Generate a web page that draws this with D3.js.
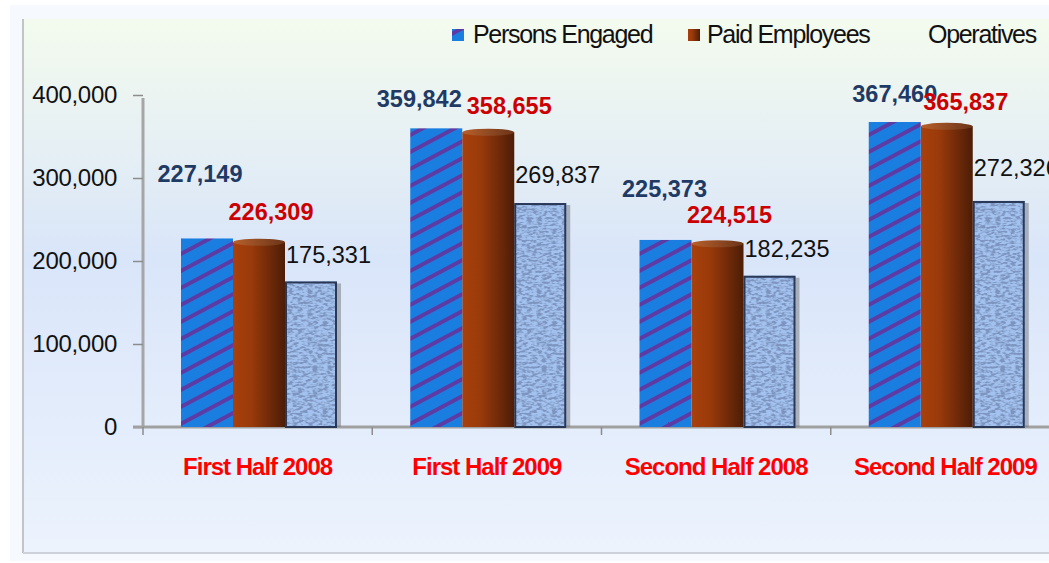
<!DOCTYPE html>
<html>
<head>
<meta charset="utf-8">
<script src="https://cdn.jsdelivr.net/npm/d3@7"></script>
<style>
  body { margin: 0; background: #fff; }
  svg { display: block; font-family: "Liberation Sans", Arial, sans-serif; }
</style>
</head>
<body>
<svg id="chart" width="1049" height="563"></svg>
<script>
// chart data
const categories = ['First Half 2008', 'First Half 2009', 'Second Half 2008', 'Second Half 2009'];
const seriesNames = ['Persons Engaged', 'Paid Employees', 'Operatives'];
const personsEngaged = [227149, 359842, 225373, 367460];
const paidEmployees = [226309, 358655, 224515, 365837];
const operatives = [175331, 269837, 182235, 272326];
const yTicks = [0, 100000, 200000, 300000, 400000];

// hand-placed value labels in the source: lift above bar top, sideways shift
const liftPersons = [65, 30, 51, 28];
const shiftPersons = [-7, -17, -1, 0];
const liftPaid = [27, 24, 26, 22];
const shiftPaid = [12, 21, 12, 19];
const liftOps = [27, 28, 27, 33];

const svg = d3.select('#chart');
const defs = svg.append('defs');

// panel background
const bg = defs.append('linearGradient').attr('id', 'panelBg')
  .attr('x1', 0).attr('y1', 0).attr('x2', 0).attr('y2', 1);
bg.append('stop').attr('offset', '0%').attr('stop-color', '#f4fbee');
bg.append('stop').attr('offset', '45%').attr('stop-color', '#d9e5f9');
bg.append('stop').attr('offset', '100%').attr('stop-color', '#ecf3fd');

svg.append('rect').attr('x', 10).attr('y', 5).attr('width', 1045).attr('height', 556)
  .attr('fill', '#f6f9fd');
svg.append('rect').attr('x', 23).attr('y', 19).attr('width', 1040).attr('height', 534)
  .attr('fill', 'url(#panelBg)');
svg.append('line').attr('x1', 23).attr('x2', 23).attr('y1', 19).attr('y2', 553)
  .attr('stroke', '#c2c4c8').attr('stroke-width', 2);
svg.append('line').attr('x1', 23).attr('x2', 1049).attr('y1', 553).attr('y2', 553)
  .attr('stroke', '#cdd2da').attr('stroke-width', 2);

// hatch for persons engaged
const hatch = defs.append('pattern').attr('id', 'hatch')
  .attr('patternUnits', 'userSpaceOnUse').attr('width', 15).attr('height', 15)
  .attr('patternTransform', 'rotate(62)');
hatch.append('rect').attr('width', 15).attr('height', 15).attr('fill', '#1a7ee0');
hatch.append('rect').attr('width', 4).attr('height', 15).attr('fill', '#5c3ca4');

// cylinder gradient for paid employees
const brown = defs.append('linearGradient').attr('id', 'brown')
  .attr('x1', 0).attr('x2', 1).attr('y1', 0).attr('y2', 0);
brown.append('stop').attr('offset', '0%').attr('stop-color', '#a8400c');
brown.append('stop').attr('offset', '35%').attr('stop-color', '#9a3a0a');
brown.append('stop').attr('offset', '100%').attr('stop-color', '#4c1d07');
const brownTop = defs.append('linearGradient').attr('id', 'brownTop')
  .attr('x1', 0).attr('x2', 1).attr('y1', 0).attr('y2', 0);
brownTop.append('stop').attr('offset', '0%').attr('stop-color', '#b8602c');
brownTop.append('stop').attr('offset', '100%').attr('stop-color', '#6a3418');

// textured fill for operatives
const tex = defs.append('filter').attr('id', 'texture')
  .attr('x', 0).attr('y', 0).attr('width', 1).attr('height', 1);
tex.append('feTurbulence').attr('type', 'fractalNoise')
  .attr('baseFrequency', '0.2 0.45').attr('numOctaves', 2).attr('seed', 4).attr('result', 'noise');
tex.append('feColorMatrix').attr('in', 'noise').attr('type', 'matrix')
  .attr('values', '0 0 0 0 0.2  0 0 0 0 0.3  0 0 0 0 0.52  -4 0 0 0 2.4')
  .attr('result', 'dark');
tex.append('feComposite').attr('in', 'dark').attr('in2', 'SourceGraphic')
  .attr('operator', 'in').attr('result', 'darkClip');
const merge = tex.append('feMerge');
merge.append('feMergeNode').attr('in', 'SourceGraphic');
merge.append('feMergeNode').attr('in', 'darkClip');

// scales
const x = d3.scaleBand().domain(categories).range([143, 1060]);
const xs = d3.scaleBand().domain(seriesNames).range([38, 194]);
const y = d3.scaleLinear().domain([0, 400000]).range([427, 95]);

// axes
const yAxis = svg.append('g').attr('transform', 'translate(143,0)')
  .call(d3.axisLeft(y).tickValues(yTicks).tickFormat(d3.format(',')).tickSize(10).tickPadding(16));
yAxis.select('.domain').attr('stroke', '#a6a6a6').attr('stroke-width', 3)
  .attr('d', `M0,${y(400000) + 3}V${y(0)}`);
yAxis.selectAll('.tick line').attr('stroke', '#8c8c8c').attr('stroke-width', 1.5);
yAxis.selectAll('.tick text').attr('font-size', '24px').attr('fill', '#111')
  .attr('letter-spacing', '-0.3px')
  .attr('font-family', '"Liberation Sans", Arial, sans-serif');

const xAxis = svg.append('g').attr('transform', `translate(0,${y(0)})`);
xAxis.append('line').attr('x1', 133).attr('x2', 1049).attr('y1', 0).attr('y2', 0)
  .attr('stroke', '#a0a0a0').attr('stroke-width', 3);
xAxis.selectAll('.xtick').data(categories).enter().append('line')
  .attr('x1', d => x(d)).attr('x2', d => x(d)).attr('y1', 0).attr('y2', 8)
  .attr('stroke', '#8c8c8c').attr('stroke-width', 1.5);
xAxis.selectAll('.xlabel').data(categories).enter().append('text')
  .attr('x', d => x(d) + x.bandwidth() / 2).attr('y', 48)
  .attr('text-anchor', 'middle').attr('font-size', '24px').attr('font-weight', 'bold')
  .attr('letter-spacing', '-1px').attr('fill', '#ff0000').text(d => d);

// bars
const bw = xs.bandwidth();
const groups = svg.selectAll('.grp').data(categories).enter().append('g')
  .attr('transform', d => `translate(${x(d)},0)`);

// operatives (with drop shadow and texture)
groups.append('rect')
  .attr('x', xs('Operatives') + 4).attr('y', (d, i) => y(operatives[i]) + 2)
  .attr('width', bw).attr('height', (d, i) => y(0) - y(operatives[i]) - 2)
  .attr('fill', '#7a7f88').attr('opacity', 0.55);
groups.append('rect')
  .attr('x', xs('Operatives')).attr('y', (d, i) => y(operatives[i]))
  .attr('width', bw).attr('height', (d, i) => y(0) - y(operatives[i]))
  .attr('fill', '#a4c2ef').attr('filter', 'url(#texture)');
groups.append('rect')
  .attr('x', xs('Operatives') + 1).attr('y', (d, i) => y(operatives[i]) + 1)
  .attr('width', bw - 2).attr('height', (d, i) => y(0) - y(operatives[i]) - 1)
  .attr('fill', 'none').attr('stroke', '#2a3858').attr('stroke-width', 2);

// paid employees cylinder
groups.append('rect')
  .attr('x', xs('Paid Employees')).attr('y', (d, i) => y(paidEmployees[i]) + 3)
  .attr('width', bw).attr('height', (d, i) => y(0) - y(paidEmployees[i]) - 3)
  .attr('fill', 'url(#brown)');
groups.append('ellipse')
  .attr('cx', xs('Paid Employees') + bw / 2).attr('cy', (d, i) => y(paidEmployees[i]) + 3)
  .attr('rx', bw / 2).attr('ry', 3.5)
  .attr('fill', 'url(#brownTop)');

// persons engaged hatched
groups.append('rect')
  .attr('x', xs('Persons Engaged')).attr('y', (d, i) => y(personsEngaged[i]))
  .attr('width', bw).attr('height', (d, i) => y(0) - y(personsEngaged[i]))
  .attr('fill', 'url(#hatch)');

// value labels
const fmt = d3.format(',');
groups.append('text')
  .attr('x', (d, i) => xs('Persons Engaged') + bw / 2 + shiftPersons[i])
  .attr('y', (d, i) => y(personsEngaged[i]) - liftPersons[i]).attr('dy', '0.35em')
  .attr('text-anchor', 'middle').attr('font-size', '23.5px').attr('font-weight', 'bold')
  .attr('fill', '#1f3a64').text((d, i) => fmt(personsEngaged[i]));
groups.append('text')
  .attr('x', (d, i) => xs('Paid Employees') + bw / 2 + shiftPaid[i])
  .attr('y', (d, i) => y(paidEmployees[i]) - liftPaid[i]).attr('dy', '0.35em')
  .attr('text-anchor', 'middle').attr('font-size', '23.5px').attr('font-weight', 'bold')
  .attr('fill', '#cc0000').text((d, i) => fmt(paidEmployees[i]));
groups.append('text')
  .attr('x', xs('Operatives') + 1)
  .attr('y', (d, i) => y(operatives[i]) - liftOps[i]).attr('dy', '0.35em')
  .attr('font-size', '23.5px').attr('fill', '#111')
  .text((d, i) => fmt(operatives[i]));

// legend
const legend = svg.append('g').attr('class', 'legend').attr('font-size', '25px')
  .attr('letter-spacing', '-1.3px').attr('fill', '#111');
const legendItems = [
  { name: seriesNames[0], mx: 452, tx: 473, fill: 'url(#hatch)' },
  { name: seriesNames[1], mx: 688, tx: 707, fill: 'url(#brown)' },
  { name: seriesNames[2], mx: 908, tx: 928, fill: 'none' }
];
legend.selectAll('rect').data(legendItems).enter().append('rect')
  .attr('x', d => d.mx).attr('y', 29).attr('width', 12).attr('height', 12)
  .attr('fill', d => d.fill);
legend.selectAll('text').data(legendItems).enter().append('text')
  .attr('x', d => d.tx).attr('y', 43).text(d => d.name);
</script>
</body>
</html>
